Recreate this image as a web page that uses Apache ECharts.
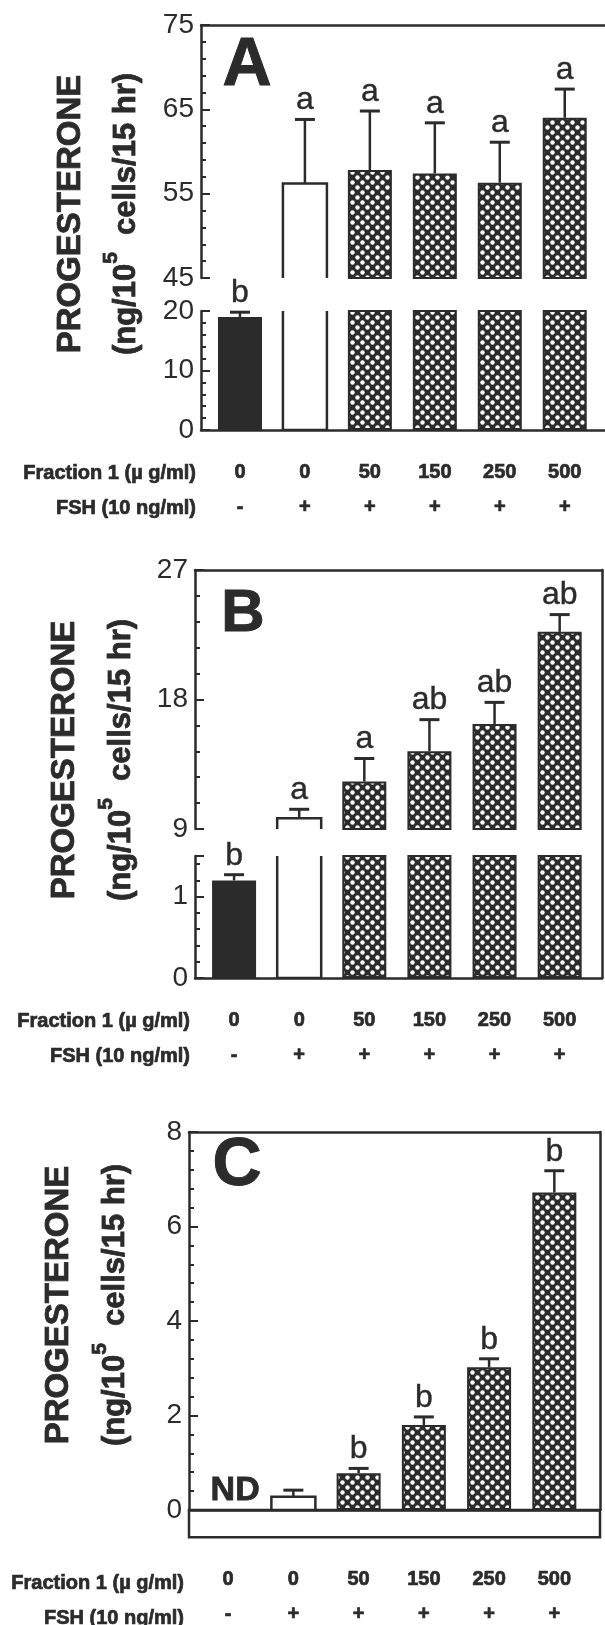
<!DOCTYPE html>
<html>
<head>
<meta charset="utf-8">
<script src="https://cdn.jsdelivr.net/npm/echarts@6/dist/echarts.min.js"></script>
<style>
html, body { margin: 0; padding: 0; background: #fff; }
#chart { width: 605px; height: 1625px; }
</style>
</head>
<body>
<div id="chart"></div>
<script>
'use strict';
// treatments, shared by the three panels (x = index)
var fractionDose = ['0', '0', '50', '150', '250', '500'];
var fshAdded = ['-', '+', '+', '+', '+', '+'];

// panel A
var aMeans = [19.0, 56.2, 57.8, 57.4, 56.3, 64.0];
var aErrTop = [19.8, 63.8, 64.8, 63.4, 61.1, 67.4];
var aLetters = ['b', 'a', 'a', 'a', 'a', 'a'];
var aTicksUpper = [45, 55, 65, 75];
var aTicksLower = [0, 10, 20];

// panel B
var bMeans = [1.2, 9.74, 12.3, 14.4, 16.3, 22.7];
var bErrTop = [1.27, 10.37, 13.9, 16.6, 17.8, 23.9];
var bLetters = ['b', 'a', 'a', 'ab', 'ab', 'ab'];
var bTicksUpper = [9, 18, 27];
var bTicksLower = [0, 1];

// panel C
var cMeans = [0, 0.28, 0.78, 1.8, 3.02, 6.72];
var cErrTop = [null, 0.42, 0.88, 1.97, 3.2, 7.18];
var cLetters = ['ND', '', 'b', 'b', 'b', 'b'];
var cTicks = [0, 2, 4, 6, 8];

var ink = '#2b2b2b';
var font = '"Liberation Sans", Arial, Helvetica, sans-serif';

// dotted fill of the fraction 1 bars
function dotPattern() {
    var c = document.createElement('canvas');
    c.width = 10; c.height = 10;
    var g = c.getContext('2d');
    g.fillStyle = ink; g.fillRect(0, 0, 10, 10);
    g.fillStyle = '#fff';
    [[2.5, 2.5], [7.5, 7.5]].forEach(function (p) {
        g.beginPath(); g.arc(p[0], p[1], 2.2, 0, Math.PI * 2); g.fill();
    });
    return { image: c, repeat: 'repeat' };
}
var dots = dotPattern();

function minorTicks(min, max, step, majors) {
    var out = [];
    for (var v = min + step; v < max - 1e-6; v += step) {
        var isMajor = majors.some(function (m) { return Math.abs(m - v) < 1e-6; });
        if (!isMajor) out.push(+v.toFixed(3));
    }
    return out;
}

var grid = [], xAxis = [], yAxis = [], series = [], graphic = [];
var line = { color: ink, width: 2.5 };

function addSegment(s) {
    var gi = grid.length;
    grid.push({ left: s.left, top: s.top, width: s.width, height: s.height,
        show: !!s.box, borderColor: ink, borderWidth: 2.5, backgroundColor: 'transparent' });
    var xi = xAxis.length;
    var rowText = { fontSize: 20, fontWeight: 'bold', fontFamily: font, color: ink, lineHeight: 35,
        textBorderColor: ink, textBorderWidth: 0.7 };
    xAxis.push({
        type: 'value', gridIndex: gi, min: s.xMin, max: s.xMax, position: 'bottom',
        axisLine: { show: !!s.bottomLine, onZero: false, lineStyle: line },
        axisTick: { show: false }, splitLine: { show: false },
        axisLabel: s.rowLabels ? {
            show: true, customValues: [0, 1, 2, 3, 4, 5], margin: 25,
            formatter: function (v) {
                var i = Math.round(v);
                return '{f|' + fractionDose[i] + '}\n{s|' + fshAdded[i] + '}';
            },
            rich: { f: rowText, s: rowText }
        } : { show: false }
    });
    if (s.topLine) {
        xAxis.push({ type: 'value', gridIndex: gi, min: s.xMin, max: s.xMax, position: 'top',
            axisLine: { show: true, onZero: false, lineStyle: line },
            axisTick: { show: false }, axisLabel: { show: false }, splitLine: { show: false } });
    }
    var yi = yAxis.length;
    yAxis.push({
        type: 'value', gridIndex: gi, min: s.yMin, max: s.yMax, position: 'left',
        axisLine: { show: !!s.majors, onZero: false, lineStyle: line },
        axisTick: s.majors ? { show: true, inside: true, length: 9, customValues: s.majors,
            lineStyle: { color: ink, width: 2 } } : { show: false },
        axisLabel: s.labels ? { show: true, customValues: s.labels, color: ink, fontSize: 28,
            fontFamily: font, margin: 7 } : { show: false },
        splitLine: { show: false }
    });
    if (s.minors) {
        yAxis.push({ type: 'value', gridIndex: gi, min: s.yMin, max: s.yMax, position: 'left',
            axisLine: { show: false, onZero: false },
            axisTick: { show: true, inside: true, length: 5, customValues: s.minors,
                lineStyle: { color: ink, width: 2 } },
            axisLabel: { show: false }, splitLine: { show: false } });
    }
    if (s.rightLine) {
        yAxis.push({ type: 'value', gridIndex: gi, min: s.yMin, max: s.yMax, position: 'right',
            axisLine: { show: true, onZero: false, lineStyle: line },
            axisTick: { show: false }, axisLabel: { show: false }, splitLine: { show: false } });
    }
    return { xi: xi, yi: yi, yMin: s.yMin, yMax: s.yMax };
}

function openBar(params, api) {
    var top = api.coord([api.value(0), api.value(1)]);
    var base = api.coord([api.value(0), 0]);
    return { type: 'rect', shape: { x: top[0] - 22, y: top[1], width: 44, height: base[1] - top[1] },
        style: { fill: '#fff', stroke: ink, lineWidth: 2.5 } };
}

function errorRender(errTop, letters) {
    return function (params, api) {
        var i = api.value(0);
        var pBar = api.coord([i, api.value(1)]);
        var children = [];
        var labelY = pBar[1];
        if (errTop[i] != null) {
            var pErr = api.coord([i, errTop[i]]);
            children.push({ type: 'line', shape: { x1: pBar[0], y1: pBar[1], x2: pErr[0], y2: pErr[1] },
                style: { stroke: ink, lineWidth: 2.5 } });
            children.push({ type: 'line', shape: { x1: pErr[0] - 10, y1: pErr[1], x2: pErr[0] + 10, y2: pErr[1] },
                style: { stroke: ink, lineWidth: 3 } });
            labelY = pErr[1];
        }
        if (letters[i]) {
            // "ND" (not detected) sits on the zero line in bold
            var nd = errTop[i] == null;
            children.push({ type: 'text', x: pBar[0] + (nd ? 7 : 0), y: labelY - (nd ? 2 : 3),
                style: { text: letters[i], fill: ink, fontFamily: font, fontSize: nd ? 34 : 32,
                    fontWeight: nd ? 'bold' : 'normal', align: 'center', verticalAlign: 'bottom',
                    stroke: ink, lineWidth: nd ? 0.8 : 0.4 } });
        }
        return { type: 'group', children: children };
    };
}

function addBars(seg, means, errTop, letters) {
    var filled = [];
    means.forEach(function (m, i) {
        if (i !== 1) filled.push({ value: [i, m], itemStyle: { color: i === 0 ? ink : dots } });
    });
    series.push({ type: 'bar', xAxisIndex: seg.xi, yAxisIndex: seg.yi, barWidth: 44,
        itemStyle: { borderColor: ink, borderWidth: 2 }, data: filled, silent: true });
    series.push({ type: 'custom', xAxisIndex: seg.xi, yAxisIndex: seg.yi, clip: true,
        data: [[1, means[1]]], renderItem: openBar, silent: true });
    var errs = [];
    means.forEach(function (m, i) {
        if (m >= seg.yMin && m <= seg.yMax) errs.push([i, m]);
    });
    series.push({ type: 'custom', xAxisIndex: seg.xi, yAxisIndex: seg.yi, clip: false,
        data: errs, renderItem: errorRender(errTop, letters), silent: true });
}

function titles(cx1, cx2, cy, letter, lx, ly, lsize, axisX, rowY) {
    graphic.push({ type: 'text', x: cx1, y: cy, rotation: Math.PI / 2,
        style: { text: 'PROGESTERONE', fill: ink, fontFamily: font, fontSize: 33, fontWeight: 'bold',
            align: 'center', verticalAlign: 'middle', stroke: ink, lineWidth: 0.8 } });
    graphic.push({ type: 'text', x: cx2, y: cy, rotation: Math.PI / 2,
        style: { text: '(ng/10{s|5}  cells/15 hr)', fill: ink, fontFamily: font, fontSize: 31,
            fontWeight: 'bold', lineHeight: 50, align: 'center', verticalAlign: 'middle',
            stroke: ink, lineWidth: 0.8,
            rich: { s: { fontSize: 21, fontWeight: 'bold', fontFamily: font, fill: ink,
                lineHeight: 21, verticalAlign: 'top' } } } });
    graphic.push({ type: 'text', x: lx, y: ly,
        style: { text: letter, fill: ink, fontFamily: font, fontSize: lsize, fontWeight: 'bold',
            align: 'center', verticalAlign: 'middle', stroke: ink, lineWidth: 1 } });
    [['Fraction 1 (\u00b5 g/ml)', rowY], ['FSH (10 ng/ml)', rowY + 35]].forEach(function (r) {
        graphic.push({ type: 'text', x: axisX - 5, y: r[1],
            style: { text: r[0], fill: ink, fontFamily: font, fontSize: 20, fontWeight: 'bold',
                align: 'right', verticalAlign: 'middle', stroke: ink, lineWidth: 0.7 } });
    });
}

// ---- panel A (broken axis 0-20 / 45-75)
var aUp = addSegment({ left: 201, top: 25, width: 404, height: 253, xMin: -0.6, xMax: 5.62,
    yMin: 45, yMax: 75, topLine: true, majors: aTicksUpper, labels: aTicksUpper,
    minors: minorTicks(45, 75, 2, aTicksUpper) });
var aLow = addSegment({ left: 201, top: 311, width: 404, height: 119, xMin: -0.6, xMax: 5.62,
    yMin: 0, yMax: 20, bottomLine: true, rowLabels: true, majors: aTicksLower, labels: aTicksLower,
    minors: minorTicks(0, 20, 2, aTicksLower) });
addBars(aUp, aMeans, aErrTop, aLetters);
addBars(aLow, aMeans, aErrTop, aLetters);
titles(71, 126, 214, 'A', 247, 66, 68, 201, 473);

// ---- panel B (broken axis 0-1.5 / 9-27)
var bUp = addSegment({ left: 195, top: 570, width: 407, height: 259, xMin: -0.6, xMax: 5.65,
    yMin: 9, yMax: 27, topLine: true, majors: bTicksUpper, labels: bTicksUpper,
    minors: minorTicks(9, 27, 1.8, bTicksUpper) });
var bLow = addSegment({ left: 195, top: 856, width: 407, height: 122, xMin: -0.6, xMax: 5.65,
    yMin: 0, yMax: 1.5, bottomLine: true, rowLabels: true, majors: bTicksLower.concat([1.5]),
    labels: bTicksLower, minors: minorTicks(0, 1.5, 0.2, bTicksLower) });
addSegment({ left: 195, top: 570, width: 407, height: 408, xMin: -0.6, xMax: 5.65,
    yMin: 0, yMax: 1, rightLine: true });
addBars(bUp, bMeans, bErrTop, bLetters);
addBars(bLow, bMeans, bErrTop, bLetters);
titles(65, 121, 760, 'B', 243, 614, 60, 195, 1021);

// ---- panel C (0-8, open strip below zero)
var cMain = addSegment({ left: 189, top: 1132, width: 411, height: 378, xMin: -0.6, xMax: 5.7,
    yMin: 0, yMax: 8, topLine: true, bottomLine: true, rightLine: true, majors: cTicks, labels: cTicks,
    minors: minorTicks(0, 8, 0.4, cTicks) });
addSegment({ left: 189, top: 1510, width: 411, height: 32, xMin: -0.6, xMax: 5.7,
    yMin: -1, yMax: 0, box: true, rowLabels: true });
addBars(cMain, cMeans, cErrTop, cLetters);
titles(59, 115, 1305, 'C', 237, 1166, 68, 189, 1583);

var chart = echarts.init(document.getElementById('chart'), null, { renderer: 'canvas' });
chart.setOption({
    animation: false,
    backgroundColor: '#fff',
    grid: grid,
    xAxis: xAxis,
    yAxis: yAxis,
    series: series,
    graphic: graphic
});
</script>
</body>
</html>
